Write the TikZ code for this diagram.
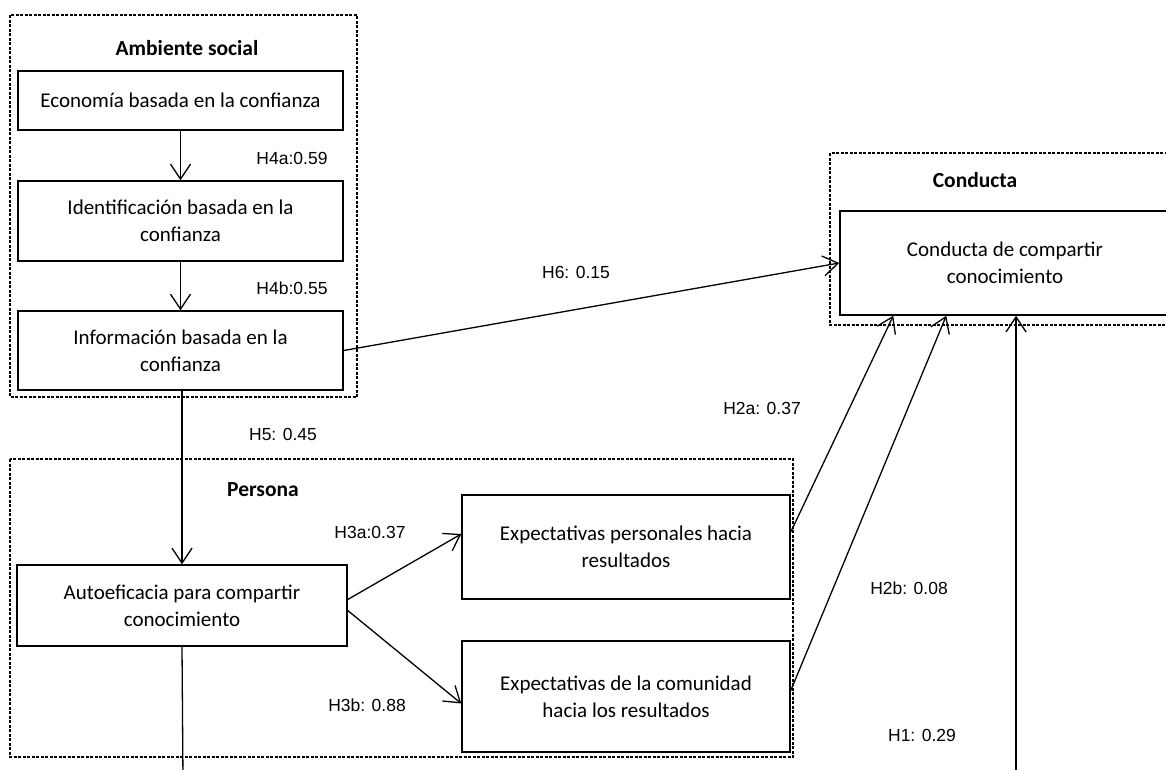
\documentclass[tikz,border=0pt]{standalone}
\usepackage{fontspec}
\setmainfont{Carlito}
\newfontfamily\labelfont{Liberation Sans}
\usetikzlibrary{arrows.meta,calc}
\begin{document}
\begin{tikzpicture}[x=1pt,y=-1pt,
  box/.style={draw,line width=1.5pt,align=center,inner sep=0pt,
    font=\fontsize{21}{27}\selectfont},
  group/.style={draw,line width=1.1pt,dash pattern=on 3pt off 1.5pt},
  grouptitle/.style={font=\fontsize{21.5}{24}\selectfont\bfseries},
  lbl/.style={font=\labelfont\fontsize{17.5}{20}\selectfont},
  link/.style={line width=1.3pt},
  arr/.style={link,-{Straight Barb[length=15pt,width=20pt,line width=1.3pt]}}]
\useasboundingbox (0,0) rectangle (1166,769);
\clip (0,0) rectangle (1166,769);

% grouping frames
\draw[group] (10,15) rectangle (357,397);
\draw[group] (10,459) rectangle (793,757);
\draw[group] (830,153) rectangle (1180,325);
\node[grouptitle] (tamb) at (187,48) {Ambiente social};
\node[grouptitle] (tper) at (263,490) {Persona};
\node[grouptitle] (tcon) at (975,180) {Conducta};

% constructs
\node[box,minimum width=325pt,minimum height=59pt] (eco) at (180.5,100.5) {Economía basada en la confianza};
\node[box,minimum width=325pt,minimum height=80pt] (ident) at (180.5,221) {Identificación basada en la\\confianza};
\node[box,minimum width=325pt,minimum height=79pt] (info) at (180.5,350.5) {Información basada en la\\confianza};
\node[box,minimum width=330pt,minimum height=81pt] (auto) at (182,605.5) {Autoeficacia para compartir\\conocimiento};
\node[box,minimum width=328pt,minimum height=104pt] (expp) at (626,547) {Expectativas personales hacia\\resultados};
\node[box,minimum width=328pt,minimum height=111pt] (expc) at (626,696.5) {Expectativas de la comunidad\\hacia los resultados};
\node[box,minimum width=330pt,minimum height=104pt] (cond) at (1005,263) {Conducta de compartir\\conocimiento};

% free ends below the frame
\coordinate (h1) at (1016,780);
\coordinate (autoend) at (183,780);

% paths
\draw[arr] (eco) -- (ident);
\draw[arr] (ident) -- (info);
\draw[arr] (info.east) -- (cond.west);
\draw[arr] (auto.north |- info.south) -- (auto.north);
\draw[arr] ($(auto.east)+(0,-6)$) -- ($(expp.west)+(0,-13)$);
\draw[arr] ($(auto.east)+(0,5)$) -- ($(expc.west)+(0,7)$);
\draw[arr] ($(expp.east)+(0,-15)$) -- ($(cond.south west)+(54,0)$);
\draw[arr] ($(expc.east)+(0,-6)$) -- ($(cond.south west)+(107,0)$);
\draw[arr] (h1) -- (h1 |- cond.south);
\draw[link] (auto.south) -- (autoend);

% path coefficients
\node[lbl] (l4a) at (292,158) {H4a:0.59};
\node[lbl] (l4b) at (292,288) {H4b:0.55};
\node[lbl] (l6) at (576,272) {H6: 0.15};
\node[lbl] (l5) at (283,434) {H5: 0.45};
\node[lbl] (l3a) at (370,532) {H3a:0.37};
\node[lbl] (l3b) at (367,705) {H3b: 0.88};
\node[lbl] (l2a) at (762,408) {H2a: 0.37};
\node[lbl] (l2b) at (909,588) {H2b: 0.08};
\node[lbl] (l1) at (922,735) {H1: 0.29};
\end{tikzpicture}
\end{document}
